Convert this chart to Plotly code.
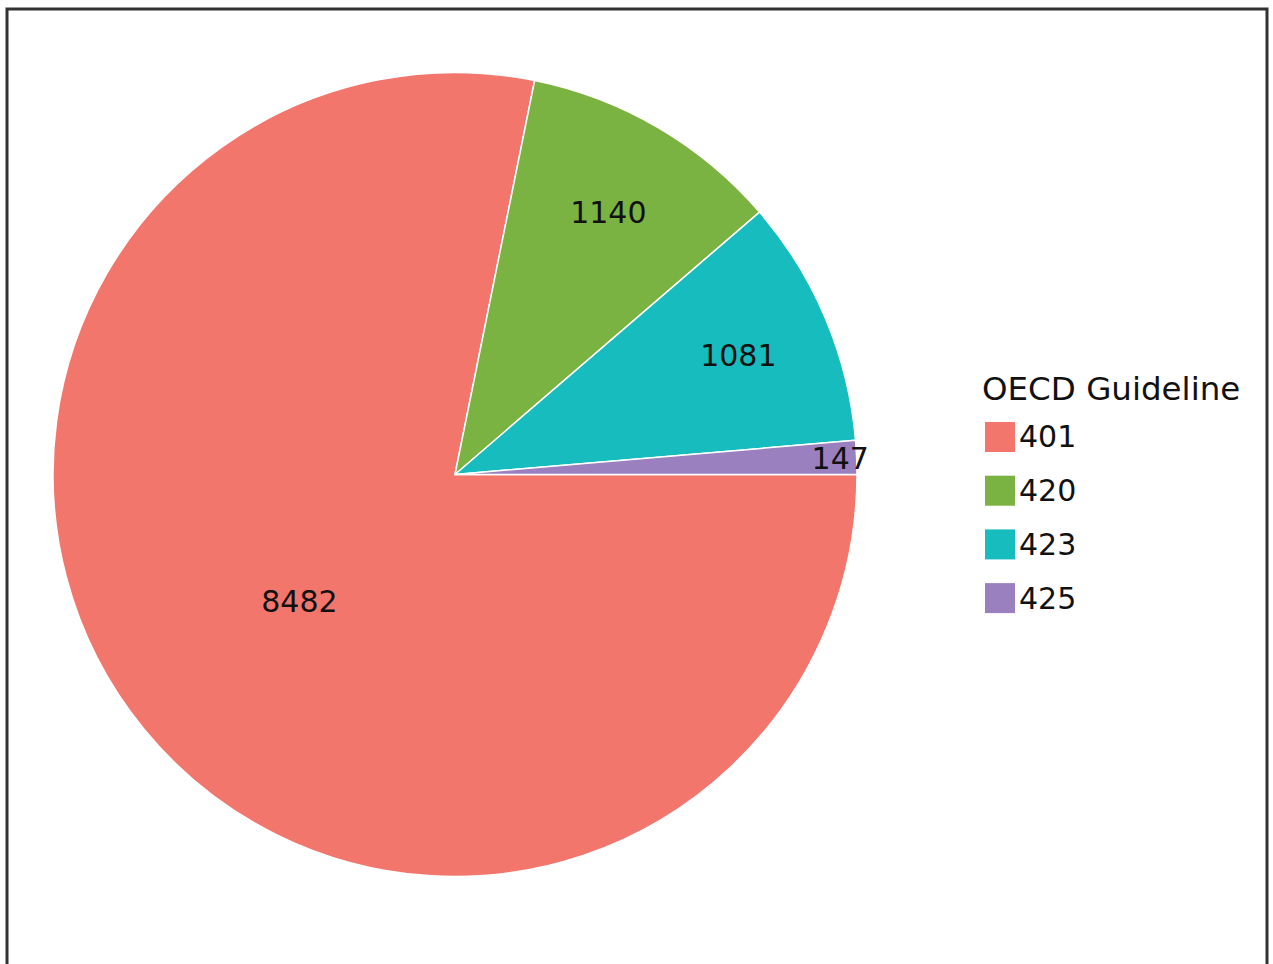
import plotly.graph_objects as go

# Data
guidelines = ["401", "420", "423", "425"]
counts = [8482, 1140, 1081, 147]
colors = ["#F3766D", "#7BB342", "#17BCBE", "#9A80BE"]
legend_title = "OECD Guideline"

W, H = 1273, 964
FONT = "DejaVu Sans"

def px_x(px):
    return px / W

def px_y(py):
    return 1 - py / H

fig = go.Figure()
fig.add_trace(go.Pie(
    labels=guidelines,
    values=counts,
    marker=dict(colors=colors, line=dict(color="white", width=1.5)),
    sort=False,
    direction="clockwise",
    rotation=90,
    textinfo="value",
    textposition="inside",
    insidetextorientation="horizontal",
    textfont=dict(family=FONT, size=30, color="#111111"),
    domain=dict(x=[px_x(53), px_x(857)], y=[px_y(877), px_y(72)]),
    showlegend=False,
    hoverinfo="label+value",
))

shapes = [
    # outer frame
    dict(type="rect", xref="paper", yref="paper",
         x0=px_x(7), x1=px_x(1267), y0=px_y(1000), y1=px_y(9),
         line=dict(color="#333333", width=3), fillcolor="rgba(0,0,0,0)", layer="above"),
]
annotations = [
    dict(text=legend_title, xref="paper", yref="paper", x=px_x(980), y=px_y(389),
         xanchor="left", yanchor="middle", showarrow=False,
         font=dict(family=FONT, size=32.5, color="#111111")),
]
row0, row_gap, sw = 437, 53.7, 30
for i, (g, c) in enumerate(zip(guidelines, colors)):
    cy = row0 + i * row_gap
    shapes.append(dict(type="rect", xref="paper", yref="paper",
                       x0=px_x(985), x1=px_x(985 + sw),
                       y0=px_y(cy + sw / 2), y1=px_y(cy - sw / 2),
                       line=dict(width=0), fillcolor=c))
    annotations.append(dict(text=g, xref="paper", yref="paper", x=px_x(1017), y=px_y(cy),
                            xanchor="left", yanchor="middle", showarrow=False,
                            font=dict(family=FONT, size=30, color="#111111")))

fig.update_layout(
    width=W, height=H,
    margin=dict(l=0, r=0, t=0, b=0),
    paper_bgcolor="white",
    plot_bgcolor="white",
    font=dict(family=FONT, size=30, color="#111111"),
    uniformtext=dict(minsize=30, mode="show"),
    shapes=shapes,
    annotations=annotations,
    showlegend=False,
)

fig.write_html("out.html")
